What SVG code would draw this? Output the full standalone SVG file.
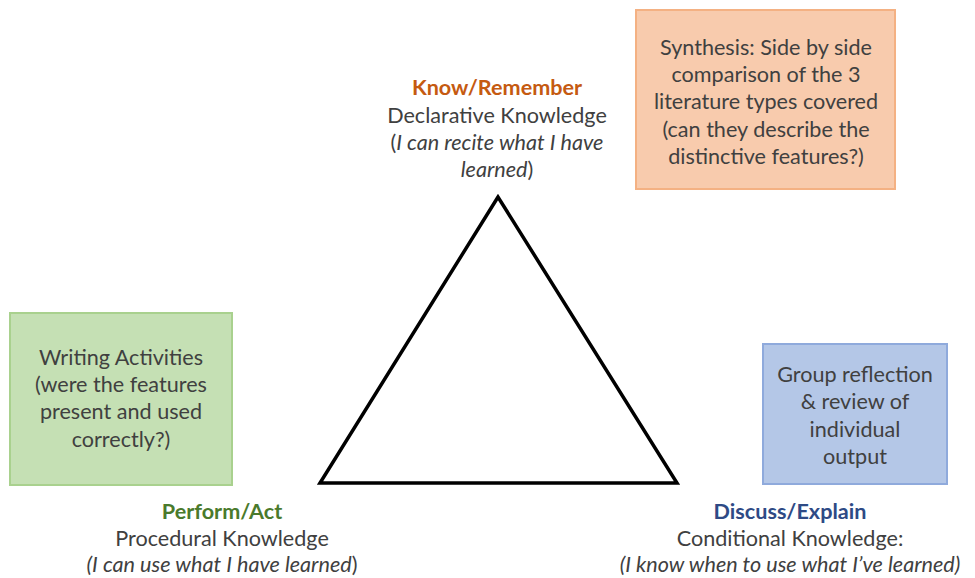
<svg xmlns="http://www.w3.org/2000/svg" width="975" height="578" viewBox="0 0 975 578">
<style>
text{font-family:Lato,"Open Sans","Liberation Sans",sans-serif;font-size:21.6px;fill:#404040;text-anchor:middle}
.b{font-weight:bold}
.i{font-style:italic}
.box{stroke-width:2}
</style>
<rect width="975" height="578" fill="#ffffff"/>
<g id="triangle">
<polygon points="498,197 320,483 677,483" fill="#ffffff" stroke="#000000" stroke-width="3.5" stroke-linejoin="miter"/>
</g>
<g id="know">
<text x="497" y="95" class="b" style="fill:#c55a11">Know/Remember</text>
<text x="497" y="123">Declarative Knowledge</text>
<text x="497" y="150">(<tspan class="i">I can recite what I have</tspan></text>
<text x="497" y="177"><tspan class="i">learned</tspan>)</text>
</g>
<g id="synthesis">
<rect x="636" y="10" width="259" height="179" fill="#f8cbad" stroke="#f4b183" class="box"/>
<text x="766" y="55">Synthesis: Side by side</text>
<text x="766" y="82">comparison of the 3</text>
<text x="766" y="109">literature types covered</text>
<text x="766" y="137">(can they describe the</text>
<text x="766" y="164">distinctive features?)</text>
</g>
<g id="writing">
<rect x="10" y="313" width="222" height="172" fill="#c5e0b4" stroke="#a9d18e" class="box"/>
<text x="121" y="365">Writing Activities</text>
<text x="121" y="392">(were the features</text>
<text x="121" y="419">present and used</text>
<text x="121" y="447">correctly?)</text>
</g>
<g id="group">
<rect x="763" y="344" width="184" height="140" fill="#b4c7e7" stroke="#8faadc" class="box"/>
<text x="855" y="382">Group reflection</text>
<text x="855" y="409">&amp; review of</text>
<text x="855" y="437">individual</text>
<text x="855" y="464">output</text>
</g>
<g id="perform">
<text x="222" y="519" class="b" style="fill:#4a7a2c">Perform/Act</text>
<text x="222" y="546">Procedural Knowledge</text>
<text x="222" y="572"><tspan class="i">(I can use what I have learned</tspan>)</text>
</g>
<g id="discuss">
<text x="790" y="519" class="b" style="fill:#2e4a85">Discuss/Explain</text>
<text x="790" y="546">Conditional Knowledge:</text>
<text x="790" y="572" class="i">(I know when to use what I’ve learned)</text>
</g>
<g id="connectors"></g>
</svg>
